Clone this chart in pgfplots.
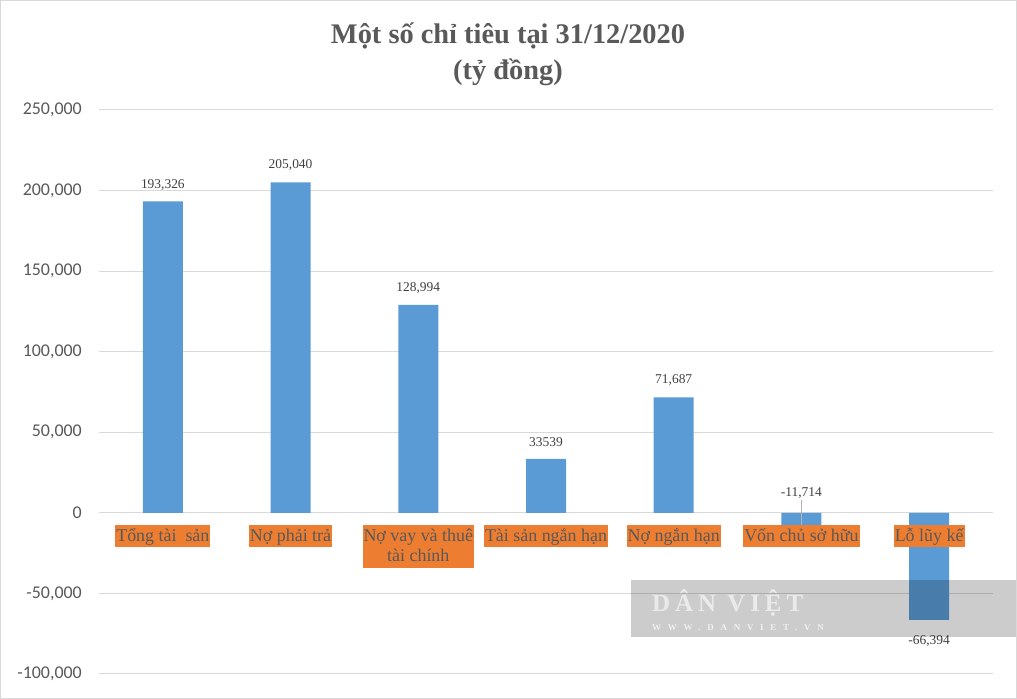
\documentclass[border=0pt]{standalone}
\usepackage{pgfplots}
\pgfplotsset{compat=1.18}
\usepackage{pgfplotstable}
\usepackage{fontspec}
\setmainfont{Liberation Serif}
\newfontfamily\carlito{Carlito}
\definecolor{barblue}{HTML}{5B9BD5}
\definecolor{lblorange}{HTML}{ED7D31}
\definecolor{txt}{HTML}{595959}
\definecolor{dl}{HTML}{404040}
\definecolor{gridc}{HTML}{D9D9D9}

\pgfplotstableread{
x y label dy
0 193326 193,326 16
1 205040 205,040 17
2 128994 128,994 17
3 33539 33539 17
4 71687 71,687 17
5 -11714 -11,714 39
6 -66394 -66,394 -21
}\datatable

\begin{document}
\begin{tikzpicture}[x=1bp,y=1bp]
\useasboundingbox (0,0) rectangle (1017,699);
\fill[white] (0,0) rectangle (1017,699);
\begin{axis}[
  at={(99bp,25bp)}, anchor=south west,
  scale only axis, width=894bp, height=564bp,
  xmin=-0.5, xmax=6.5, ymin=-100000, ymax=250000,
  clip=false,
  axis line style={draw=none},
  xtick=\empty,
  scaled y ticks=false,
  ytick={-100000,-50000,0,50000,100000,150000,200000,250000},
  yticklabels={{-100,000},{-50,000},{0},{50,000},{100,000},{150,000},{200,000},{250,000}},
  ymajorgrids,
  grid style={gridc, line width=1bp},
  major tick length=0pt,
  yticklabel style={font=\carlito\fontsize{18}{21}\selectfont, text=txt, anchor=east, inner sep=0pt, xshift=-17bp},
]
\addplot[ybar, bar width=40bp, fill=barblue, draw=none] table[x=x, y=y]{\datatable};
\addplot[only marks, mark=none,
  nodes near coords, point meta=explicit symbolic,
  visualization depends on={\thisrow{dy} \as \dy},
  every node near coord/.append style={anchor=center, yshift=\dy bp, font=\fontsize{13.5}{16}\selectfont, text=dl}]
  table[x=x, y=y, meta=label]{\datatable};
\draw[gray!60, line width=0.8bp] (axis cs:5,-7400) -- (axis cs:5,8000);
\tikzset{catlbl/.style={anchor=north, yshift=-12bp, fill=lblorange, text=txt, inner xsep=1bp, inner ysep=2bp, font=\fontsize{18}{21}\selectfont}}
\node[catlbl, text height=14bp, text depth=4bp] at (axis cs:0,0) {Tổng tài\ \ sản};
\node[catlbl, text height=14bp, text depth=4bp] at (axis cs:1,0) {Nợ phải trả};
\node[catlbl, align=center] at (axis cs:2,0) {\rule{0pt}{14bp}Nợ vay và thuê\\tài chính\rule[-4bp]{0pt}{4bp}};
\node[catlbl, text height=14bp, text depth=4bp] at (axis cs:3,0) {Tài sản ngắn hạn};
\node[catlbl, text height=14bp, text depth=4bp] at (axis cs:4,0) {Nợ ngắn hạn};
\node[catlbl, text height=14bp, text depth=4bp] at (axis cs:5,0) {Vốn chủ sở hữu};
\node[catlbl, text height=14bp, text depth=4bp] at (axis cs:6,0) {Lỗ lũy kế};
\end{axis}
% title
\node[anchor=base, text=txt, font=\fontsize{28.5}{34}\selectfont\bfseries] at (508,655) {Một số chỉ tiêu tại 31/12/2020};
\node[anchor=base, text=txt, font=\fontsize{28.5}{34}\selectfont\bfseries] at (508,619) {(tỷ đồng)};
% watermark
\fill[black, opacity=0.2] (631,62) rectangle (1017,119);
\node[anchor=base west, inner sep=0pt, text=white, opacity=0.6, font=\fontsize{25}{28}\selectfont\bfseries\addfontfeature{LetterSpace=20}] at (652,87) {DÂN VIỆT};
\node[anchor=base west, inner sep=0pt, text=white, opacity=0.7, font=\fontsize{9}{10}\selectfont\bfseries\addfontfeature{LetterSpace=75}] at (652,68) {WWW.DANVIET.VN};
% frame
\draw[gridc, line width=1bp] (0.5,0.5) rectangle (1016.5,698.5);
\end{tikzpicture}
\end{document}
